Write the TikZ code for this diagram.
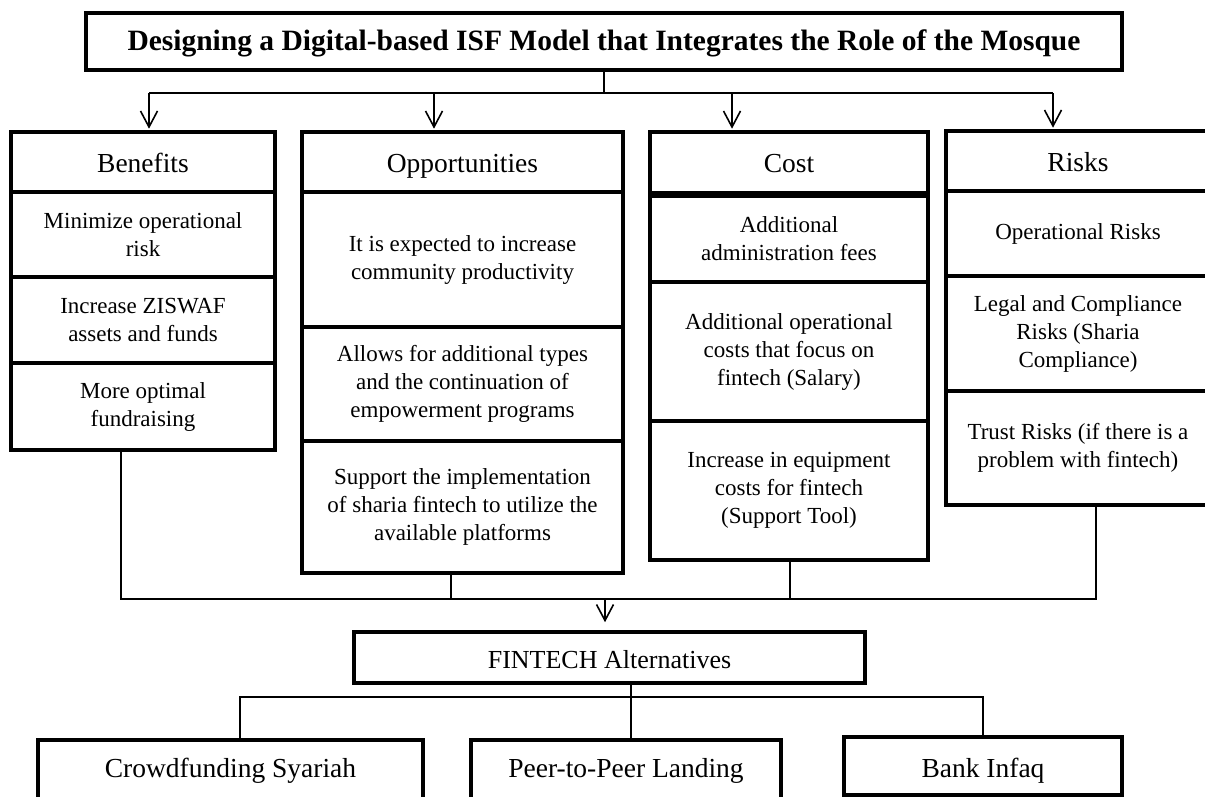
\documentclass[tikz,border=0pt]{standalone}
\usepackage{fontspec}
\setmainfont{Liberation Serif}
\usetikzlibrary{arrows.meta}
\begin{document}
\begin{tikzpicture}[x=1pt,y=-1pt,
  box/.style={draw=black, line width=3.6pt, inner sep=0pt, align=center, font=\fontsize{23}{28}\selectfont},
  head/.style={box, font=\fontsize{27.5}{32}\selectfont, text height=26pt, text depth=6pt},
  conn/.style={line width=1.6pt},
  arr/.style={conn, -{Straight Barb[length=16pt,width=17pt,line width=1.6pt]}}
]
\clip (0,0) rectangle (1205,796);
\fill[white] (0,0) rectangle (1205,796);

% title
\node[box, font=\fontsize{29.5}{34}\selectfont\bfseries, text height=23pt, text depth=6pt, minimum width=1036pt, minimum height=57pt] (title) at (604,41.5)
  {Designing a Digital-based ISF Model that Integrates the Role of the Mosque};

% Benefits
\node[head, minimum width=264pt, minimum height=60pt] (ben) at (143,162) {Benefits};
\node[box, minimum width=264pt, minimum height=85pt] (b1) at (143,234.5) {Minimize operational\\risk};
\node[box, minimum width=264pt, minimum height=86pt] (b2) at (143,320) {Increase ZISWAF\\assets and funds};
\node[box, minimum width=264pt, minimum height=87pt] (b3) at (143,406.5) {More optimal\\fundraising};

% Opportunities
\node[head, minimum width=321pt, minimum height=60pt] (opp) at (462.5,162) {Opportunities};
\node[box, minimum width=321pt, minimum height=135pt] (o1) at (462.5,259.5) {It is expected to increase\\community productivity};
\node[box, minimum width=321pt, minimum height=114pt] (o2) at (462.5,384) {Allows for additional types\\and the continuation of\\empowerment programs};
\node[box, minimum width=321pt, minimum height=132pt] (o3) at (462.5,507) {Support the implementation\\of sharia fintech to utilize the\\available platforms};

% Cost
\node[head, minimum width=278pt, minimum height=61pt] (cost) at (789,162.5) {Cost};
\node[box, minimum width=278pt, minimum height=86pt] (c1) at (789,239) {Additional\\administration fees};
\node[box, minimum width=278pt, minimum height=139pt] (c2) at (789,351.5) {Additional operational\\costs that focus on\\fintech (Salary)};
\node[box, minimum width=278pt, minimum height=139pt] (c3) at (789,490.5) {Increase in equipment\\costs for fintech\\(Support Tool)};

% Risks
\node[head, minimum width=264pt, minimum height=60pt] (risk) at (1078,161) {Risks};
\node[box, minimum width=264pt, minimum height=85pt] (r1) at (1078,233.5) {Operational Risks};
\node[box, minimum width=264pt, minimum height=115pt] (r2) at (1078,333.5) {Legal and Compliance\\Risks (Sharia\\Compliance)};
\node[box, minimum width=264pt, minimum height=114pt] (r3) at (1078,448) {Trust Risks (if there is a\\problem with fintech)};

% FINTECH
\node[box, font=\fontsize{26}{30}\selectfont, text height=27pt, text depth=6pt, minimum width=511pt, minimum height=51pt] (fin) at (609.5,657.5) {FINTECH Alternatives};

% bottom boxes
\node[head, text height=20pt, minimum width=385pt, minimum height=60pt] (cr) at (230.5,770) {Crowdfunding Syariah};
\node[head, text height=20pt, minimum width=310pt, minimum height=60pt] (peer) at (626,770) {Peer-to-Peer Landing};
\node[head, text height=28pt, minimum width=278pt, minimum height=58pt] (bank) at (983,766) {Bank Infaq};

% top connectors
\coordinate (t1) at (149,93);
\coordinate (t2) at (434,93);
\coordinate (t3) at (732,93);
\coordinate (t4) at (1053,93);
\draw[conn] (title.south) -- (title.south |- t1);
\draw[conn] (t1) -- (t4);
\draw[arr, shorten >=1.5pt] (t1) -- (t1 |- ben.north);
\draw[arr, shorten >=1.5pt] (t2) -- (t2 |- opp.north);
\draw[arr, shorten >=1.5pt] (t3) -- (t3 |- cost.north);
\draw[arr, shorten >=1.5pt] (t4) -- (t4 |- risk.north);

% middle connectors
\coordinate (u1) at (121,599);
\coordinate (u2) at (451,599);
\coordinate (u3) at (790,599);
\coordinate (u4) at (1096,599);
\coordinate (ua) at (605,599);
\draw[conn] (u1 |- b3.south) -- (u1) -- (u4) -- (u4 |- r3.south);
\draw[conn] (u2 |- o3.south) -- (u2);
\draw[conn] (u3 |- c3.south) -- (u3);
\draw[arr, shorten >=8pt] (ua) -- (ua |- fin.north);

% bottom connectors
\coordinate (v1) at (240,697);
\coordinate (v2) at (631,697);
\coordinate (v3) at (983,697);
\draw[conn] (v2 |- fin.south) -- (v2);
\draw[conn] (v1 |- cr.north) -- (v1) -- (v3) -- (v3 |- bank.north);
\draw[conn] (v2) -- (v2 |- peer.north);
\end{tikzpicture}
\end{document}
